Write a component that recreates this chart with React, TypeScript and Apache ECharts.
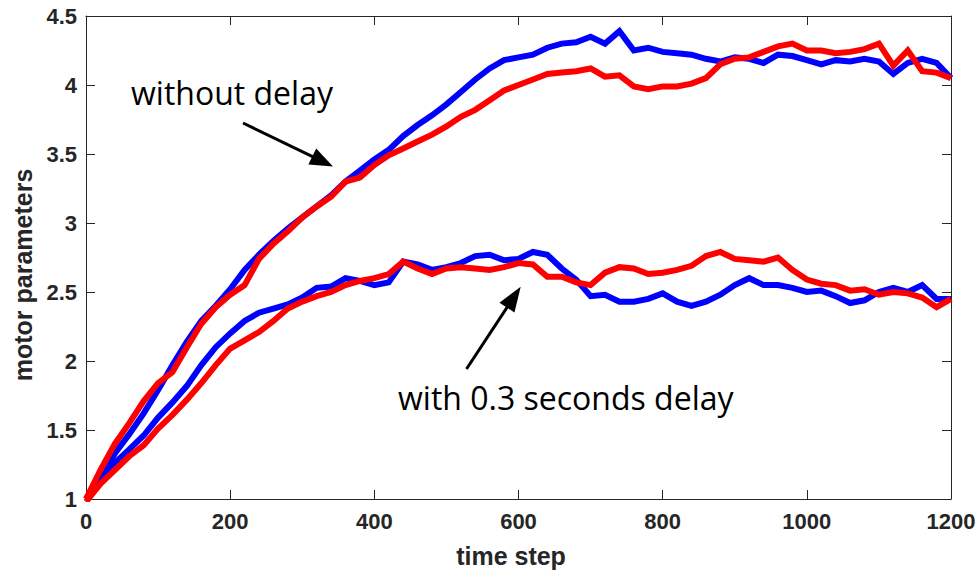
import React, { useEffect, useRef } from "react";
import * as echarts from "echarts";

const timeSteps = [
  0, 20, 40, 60, 80, 100, 120, 140, 160, 180, 200, 220, 240, 260, 280, 300, 320, 340, 360, 380,
  400, 420, 440, 460, 480, 500, 520, 540, 560, 580, 600, 620, 640, 660, 680, 700, 720, 740, 760, 780,
  800, 820, 840, 860, 880, 900, 920, 940, 960, 980, 1000, 1020, 1040, 1060, 1080, 1100, 1120, 1140, 1160, 1180,
  1200,
];

// without delay (upper pair)
const upperBlue = [
  1.0, 1.14, 1.33, 1.47, 1.62, 1.79, 1.97, 2.14, 2.29, 2.4, 2.52, 2.66, 2.77, 2.87, 2.96, 3.04, 3.12, 3.2, 3.3, 3.38,
  3.46, 3.53, 3.63, 3.71, 3.78, 3.86, 3.95, 4.04, 4.12, 4.18, 4.2, 4.22, 4.27, 4.3, 4.31, 4.35, 4.3, 4.39, 4.25, 4.27,
  4.24, 4.23, 4.22, 4.19, 4.17, 4.2, 4.19, 4.16, 4.22, 4.21, 4.18, 4.15, 4.18, 4.17, 4.19, 4.17, 4.08, 4.16, 4.19, 4.16,
  4.05,
];
const upperRed = [
  1.0, 1.21, 1.4, 1.55, 1.71, 1.84, 1.92, 2.1, 2.27, 2.39, 2.48, 2.55, 2.74, 2.85, 2.94, 3.04, 3.12, 3.19, 3.3, 3.33,
  3.42, 3.49, 3.54, 3.59, 3.64, 3.7, 3.77, 3.82, 3.89, 3.96, 4.0, 4.04, 4.08, 4.09, 4.1, 4.12, 4.06, 4.07, 3.99, 3.97,
  3.99, 3.99, 4.01, 4.05, 4.15, 4.19, 4.2, 4.24, 4.28, 4.3, 4.25, 4.25, 4.23, 4.24, 4.26, 4.3, 4.14, 4.25, 4.1, 4.09,
  4.05,
];

// with 0.3 seconds delay (lower pair)
const lowerBlue = [
  1.0, 1.14, 1.26, 1.36, 1.46, 1.59, 1.7, 1.82, 1.97, 2.1, 2.2, 2.29, 2.35, 2.38, 2.41, 2.46, 2.53, 2.54, 2.6, 2.58,
  2.55, 2.57, 2.72, 2.7, 2.66, 2.68, 2.71, 2.76, 2.77, 2.73, 2.74, 2.79, 2.77, 2.67, 2.59, 2.47, 2.48, 2.43, 2.43, 2.45,
  2.49, 2.43, 2.4, 2.43, 2.48, 2.55, 2.6, 2.55, 2.55, 2.53, 2.5, 2.51, 2.47, 2.42, 2.44, 2.5, 2.53, 2.5, 2.55, 2.45,
  2.45,
];
const lowerRed = [
  0.98, 1.11, 1.21, 1.31, 1.39, 1.51, 1.61, 1.72, 1.84, 1.97, 2.09, 2.15, 2.21, 2.29, 2.38, 2.43, 2.47, 2.5, 2.55, 2.58,
  2.6, 2.63, 2.72, 2.67, 2.63, 2.67, 2.68, 2.67, 2.66, 2.68, 2.71, 2.7, 2.61, 2.61, 2.57, 2.55, 2.64, 2.68, 2.67, 2.63,
  2.64, 2.66, 2.69, 2.76, 2.79, 2.74, 2.73, 2.72, 2.75, 2.66, 2.59, 2.56, 2.55, 2.51, 2.52, 2.48, 2.5, 2.49, 2.46, 2.39,
  2.45,
];

const xTitle = "time step";
const yTitle = "motor parameters";
const note1 = "without delay";
const note2 = "with 0.3 seconds delay";

const AXIS_COLOR = "#262626";
const TICK_FONT = "Liberation Sans, Arial, sans-serif";

function arrow(tail: number[], tip: number[], headLen: number, headHalf: number) {
  const dx = tip[0] - tail[0];
  const dy = tip[1] - tail[1];
  const L = Math.hypot(dx, dy);
  const ux = dx / L;
  const uy = dy / L;
  const bx = tip[0] - ux * headLen;
  const by = tip[1] - uy * headLen;
  const px = -uy;
  const py = ux;
  return [
    {
      type: "line",
      shape: { x1: tail[0], y1: tail[1], x2: bx + ux * 2, y2: by + uy * 2 },
      style: { stroke: "#000", lineWidth: 3 },
      z: 100,
    },
    {
      type: "polygon",
      shape: {
        points: [
          [tip[0], tip[1]],
          [bx + px * headHalf, by + py * headHalf],
          [bx - px * headHalf, by - py * headHalf],
        ],
      },
      style: { fill: "#000" },
      z: 100,
    },
  ];
}

function pairs(ys: number[]) {
  return timeSteps.map((x, i) => [x, ys[i]]);
}

export default function App() {
  const ref = useRef<HTMLDivElement>(null);
  useEffect(() => {
    if (!ref.current) return;
    const chart = echarts.init(ref.current, null, { renderer: "svg" });
    const axisCommon = {
      axisLine: { show: true, onZero: false, lineStyle: { color: AXIS_COLOR, width: 1 } },
      axisTick: { show: true, inside: true, length: 9, lineStyle: { color: AXIS_COLOR, width: 1 } },
      splitLine: { show: false },
    };
    const labelStyle = {
      fontSize: 22,
      fontWeight: "bold",
      fontFamily: TICK_FONT,
      color: AXIS_COLOR,
      formatter: (v: number) => String(v),
    };
    const lineSeries = (data: number[], color: string, z: number) => ({
      type: "line",
      data: pairs(data),
      showSymbol: false,
      symbol: "none",
      lineStyle: { color, width: 6, join: "miter" },
      itemStyle: { color },
      z,
      silent: true,
    });
    chart.setOption({
      animation: false,
      backgroundColor: "#fff",
      grid: { left: 86, top: 16, right: 29, bottom: 72, containLabel: false },
      xAxis: [
        {
          type: "value",
          min: 0,
          max: 1200,
          interval: 200,
          position: "bottom",
          ...axisCommon,
          axisLabel: { ...labelStyle, margin: 11 },
        },
        {
          type: "value",
          min: 0,
          max: 1200,
          interval: 200,
          position: "top",
          ...axisCommon,
          axisLabel: { show: false },
        },
      ],
      yAxis: [
        {
          type: "value",
          min: 1,
          max: 4.5,
          interval: 0.5,
          position: "left",
          ...axisCommon,
          axisLabel: { ...labelStyle, margin: 9 },
        },
        {
          type: "value",
          min: 1,
          max: 4.5,
          interval: 0.5,
          position: "right",
          ...axisCommon,
          axisLabel: { show: false },
        },
      ],
      series: [
        lineSeries(upperBlue, "#0000ff", 2),
        lineSeries(lowerBlue, "#0000ff", 2),
        lineSeries(upperRed, "#ff0000", 3),
        lineSeries(lowerRed, "#ff0000", 3),
      ],
      graphic: [
        {
          type: "text",
          x: 511,
          y: 555.5,
          style: {
            text: xTitle,
            align: "center",
            verticalAlign: "middle",
            fontSize: 25,
            fontWeight: "bold",
            fontFamily: TICK_FONT,
            fill: AXIS_COLOR,
          },
        },
        {
          type: "text",
          x: 23,
          y: 275,
          rotation: Math.PI / 2,
          style: {
            text: yTitle,
            align: "center",
            verticalAlign: "middle",
            fontSize: 25,
            fontWeight: "bold",
            fontFamily: TICK_FONT,
            fill: AXIS_COLOR,
          },
        },
        {
          type: "text",
          x: 131,
          y: 92.5,
          z: 100,
          style: {
            text: note1,
            align: "left",
            verticalAlign: "middle",
            fontSize: 32,
            fontFamily: "Open Sans, Noto Sans, sans-serif",
            fill: "#000",
          },
        },
        {
          type: "text",
          x: 398,
          y: 397.5,
          z: 100,
          style: {
            text: note2,
            align: "left",
            verticalAlign: "middle",
            fontSize: 32,
            fontFamily: "Open Sans, Noto Sans, sans-serif",
            fill: "#000",
          },
        },
        ...arrow([243, 123], [333, 166.5], 23, 9),
        ...arrow([466.5, 369], [520.7, 286.7], 25, 9),
      ],
    });
    return () => chart.dispose();
  }, []);
  return (
    <div
      ref={ref}
      style={{ position: "fixed", left: 0, top: 0, width: 980, height: 571, background: "#fff" }}
    />
  );
}
